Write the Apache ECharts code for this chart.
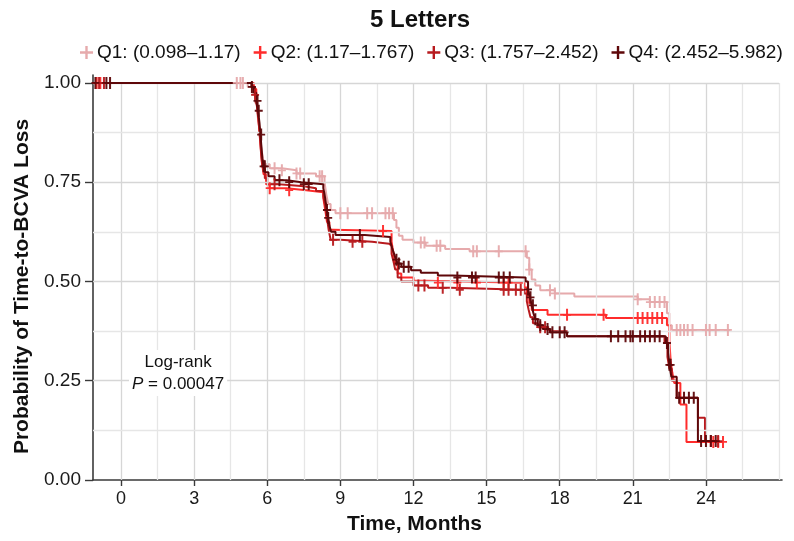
<!DOCTYPE html>
<html>
<head>
<meta charset="utf-8">
<script src="https://cdn.jsdelivr.net/npm/echarts@6/dist/echarts.min.js"></script>
<style>
  html, body { margin: 0; padding: 0; background: #ffffff; }
  #chart { width: 794px; height: 541px; }
</style>
</head>
<body>
<div id="chart"></div>
<script>
// Kaplan-Meier estimates by quartile: change times (months) and survival after each change
const groupNames = ['Q1: (0.098\u20131.17)', 'Q2: (1.17\u20131.767)', 'Q3: (1.757\u20132.452)', 'Q4: (2.452\u20135.982)'];
const groupColors = ['#e6aaac', '#ff2b2b', '#b81a1e', '#5e0709'];

const q1Times = [-1.15, 5.2, 5.4, 5.5, 5.6, 5.68, 5.75, 5.82, 5.9, 6.1, 6.6, 7.2, 8.0, 8.35, 8.42, 8.5, 8.6, 8.8, 11.2, 11.3, 11.4, 11.55, 12.0, 12.5, 13.3, 14.3, 16.65, 16.75, 16.85, 17.0, 17.2, 17.8, 18.6, 21.2, 21.7, 22.4, 22.5, 22.6];
const q1Surv  = [1.0, 0.99, 0.97, 0.95, 0.92, 0.88, 0.84, 0.81, 0.795, 0.785, 0.78, 0.772, 0.765, 0.75, 0.72, 0.695, 0.68, 0.672, 0.655, 0.635, 0.615, 0.605, 0.598, 0.59, 0.582, 0.576, 0.56, 0.53, 0.505, 0.49, 0.478, 0.47, 0.462, 0.455, 0.448, 0.42, 0.39, 0.378];
const q1End = 25.0;
const q1Censor = [4.75, 4.9, 5.0, 6.3, 6.6, 7.2, 7.35, 8.15, 8.25, 9.0, 9.3, 10.1, 10.3, 10.85, 11.0, 11.15, 12.3, 12.45, 12.95, 13.1, 14.45, 14.6, 15.5, 16.6, 16.75, 17.6, 17.8, 21.2, 21.7, 21.9, 22.1, 22.3, 22.8, 22.95, 23.1, 23.25, 23.45, 24.0, 24.15, 24.4, 24.9];

const q2Times = [-1.15, 5.45, 5.55, 5.62, 5.68, 5.73, 5.78, 5.85, 5.95, 6.1, 6.8, 7.6, 8.3, 8.38, 8.45, 8.55, 8.7, 11.1, 11.18, 11.25, 11.35, 11.5, 12.0, 12.5, 16.55, 16.65, 16.75, 16.85, 17.5, 19.9, 22.4, 22.5, 22.55, 22.62, 22.7, 22.95, 23.2];
const q2Surv  = [1.0, 0.985, 0.96, 0.92, 0.88, 0.84, 0.80, 0.77, 0.745, 0.735, 0.73, 0.725, 0.71, 0.68, 0.65, 0.63, 0.627, 0.60, 0.57, 0.545, 0.52, 0.51, 0.502, 0.497, 0.485, 0.465, 0.445, 0.428, 0.416, 0.408, 0.39, 0.35, 0.30, 0.27, 0.244, 0.19, 0.096];
const q2End = 24.7;
const q2Censor = [-1.0, -0.85, 6.1, 6.9, 10.75, 13.0, 13.8, 14.6, 15.7, 15.9, 18.3, 19.8, 21.2, 21.4, 21.6, 21.8, 22.0, 22.2, 24.3, 24.5, 24.7];

const q3Times = [-1.15, 5.4, 5.5, 5.58, 5.65, 5.7, 5.75, 5.8, 5.9, 6.0, 6.5, 7.5, 8.0, 8.3, 8.38, 8.45, 8.52, 8.6, 9.0, 10.3, 11.0, 11.1, 11.18, 11.25, 11.35, 11.5, 12.0, 12.6, 13.5, 16.55, 16.65, 16.72, 16.8, 16.9, 17.1, 17.5, 18.3, 22.3, 22.42, 22.5, 22.6, 22.8, 23.67, 23.96];
const q3Surv  = [1.0, 0.99, 0.97, 0.94, 0.90, 0.86, 0.82, 0.79, 0.76, 0.745, 0.74, 0.735, 0.728, 0.715, 0.69, 0.66, 0.63, 0.605, 0.60, 0.595, 0.59, 0.57, 0.55, 0.53, 0.51, 0.50, 0.49, 0.484, 0.479, 0.47, 0.45, 0.43, 0.41, 0.395, 0.385, 0.375, 0.362, 0.345, 0.31, 0.28, 0.25, 0.207, 0.157, 0.098];
const q3End = 24.5;
const q3Censor = [-0.9, -0.7, 5.5, 6.3, 8.7, 9.5, 9.9, 12.2, 12.45, 13.2, 13.9, 15.7, 15.9, 16.2, 16.4, 17.2, 17.4, 24.2, 24.5];

const q4Times = [-1.15, 5.35, 5.45, 5.55, 5.62, 5.68, 5.72, 5.76, 5.8, 5.85, 5.92, 6.05, 6.3, 6.8, 7.4, 8.3, 8.35, 8.4, 8.45, 8.5, 8.55, 8.62, 8.8, 10.0, 11.05, 11.12, 11.2, 11.28, 11.36, 11.5, 11.9, 12.3, 13.0, 13.6, 16.6, 16.7, 16.78, 16.85, 16.92, 17.0, 17.1, 17.3, 17.6, 18.3, 22.35, 22.45, 22.5, 22.58, 22.8, 23.67];
const q4Surv  = [1.0, 0.99, 0.975, 0.955, 0.93, 0.90, 0.87, 0.84, 0.81, 0.79, 0.775, 0.765, 0.755, 0.75, 0.745, 0.735, 0.72, 0.70, 0.68, 0.66, 0.64, 0.625, 0.617, 0.612, 0.60, 0.585, 0.57, 0.555, 0.545, 0.537, 0.528, 0.522, 0.515, 0.51, 0.50, 0.48, 0.46, 0.44, 0.42, 0.405, 0.39, 0.38, 0.372, 0.362, 0.345, 0.32, 0.29, 0.26, 0.207, 0.098];
const q4End = 24.4;
const q4Censor = [-1.05, -0.6, -0.45, 5.37, 5.6, 5.65, 5.75, 5.85, 5.9, 6.5, 6.9, 7.5, 7.7, 8.45, 8.5, 9.8, 11.3, 11.4, 11.6, 11.8, 13.8, 14.4, 14.55, 15.5, 15.7, 15.95, 16.7, 16.8, 16.9, 17.0, 17.2, 17.5, 17.7, 18.0, 18.2, 20.1, 20.4, 20.7, 20.9, 21.0, 21.3, 21.5, 21.7, 21.9, 22.1, 22.4, 22.5, 22.55, 22.9, 23.1, 23.3, 23.5, 23.8, 24.0, 24.2, 24.4];

// Axis ranges and tick labels
const xMin = -1.15, xMax = 27.12, yMin = 0, yMax = 1.02;
const xTickValues = [0, 3, 6, 9, 12, 15, 18, 21, 24];
const yTickValues = [0, 0.25, 0.5, 0.75, 1.0];
const xGridValues = [0, 1.5, 3, 4.5, 6, 7.5, 9, 10.5, 12, 13.5, 15, 16.5, 18, 19.5, 21, 22.5, 24, 25.5, 27];
const yGridValues = [0.125, 0.25, 0.375, 0.5, 0.625, 0.75, 0.875, 1.0];
const logRankP = '0.00047';

const groups = [
  { times: q1Times, surv: q1Surv, end: q1End, censor: q1Censor },
  { times: q2Times, surv: q2Surv, end: q2End, censor: q2Censor },
  { times: q3Times, surv: q3Surv, end: q3End, censor: q3Censor },
  { times: q4Times, surv: q4Surv, end: q4End, censor: q4Censor }
];

function stepPoints(g) {
  const pts = g.times.map((t, i) => [t, g.surv[i]]);
  pts.push([g.end, g.surv[g.surv.length - 1]]);
  return pts;
}
function survivalAt(g, t) {
  let s = g.surv[0];
  for (let i = 0; i < g.times.length; i++) {
    if (g.times[i] <= t) s = g.surv[i];
  }
  return s;
}

const plusPath = 'path://M3,0H5V12H3Z M0,5.1H8V6.9H0Z';
const legendPlus = 'path://M4.9,0H7.1V12H4.9Z M0,4.9H12V7.1H0Z';

const series = [];

// Background grid lines, placed through the axes
const gridLines = [];
xGridValues.forEach(v => {
  const major = xTickValues.indexOf(v) >= 0;
  gridLines.push([
    { coord: [v, 0], lineStyle: { color: major ? '#d6d6d6' : '#e6e6e6', width: 1.3, type: 'solid' } },
    { coord: [v, 1.0] }
  ]);
});
yGridValues.forEach(v => {
  const major = yTickValues.indexOf(v) >= 0;
  gridLines.push([
    { coord: [xMin, v], lineStyle: { color: major ? '#d6d6d6' : '#e6e6e6', width: 1.3, type: 'solid' } },
    { coord: [27, v] }
  ]);
});
series.push({
  type: 'line',
  name: '__grid',
  data: [[xMin, 0]],
  showSymbol: false,
  lineStyle: { opacity: 0 },
  silent: true,
  z: 0,
  markLine: {
    silent: true,
    symbol: 'none',
    label: { show: false },
    data: gridLines,
    animation: false
  }
});

groups.forEach((g, i) => {
  series.push({
    type: 'line',
    name: groupNames[i],
    step: 'end',
    data: stepPoints(g),
    showSymbol: false,
    lineStyle: { color: groupColors[i], width: 2 },
    itemStyle: { color: groupColors[i] },
    z: 2 + i,
    animation: false
  });
});
groups.forEach((g, i) => {
  series.push({
    type: 'scatter',
    name: groupNames[i],
    data: g.censor.map(t => [t, survivalAt(g, t)]),
    symbol: plusPath,
    symbolSize: [8, 12],
    itemStyle: { color: groupColors[i], opacity: 0.95 },
    z: 6 + i,
    animation: false
  });
});

const chart = echarts.init(document.getElementById('chart'), null, { renderer: 'canvas' });
chart.setOption({
  animation: false,
  backgroundColor: '#ffffff',
  textStyle: { fontFamily: 'Liberation Sans, Arial, sans-serif' },
  title: {
    text: '5 Letters',
    left: 415,
    top: 3,
    textAlign: 'center',
    textStyle: { fontSize: 24, fontWeight: 'bold', color: '#111111', fontFamily: 'Liberation Sans, Arial, sans-serif' }
  },
  legend: {
    top: 43,
    left: 80,
    width: 714,
    padding: 0,
    itemWidth: 13,
    itemHeight: 13,
    itemGap: 13,
    selectedMode: false,
    textStyle: { fontSize: 19, color: '#111111', padding: [0, 0, 0, -1] },
    data: groupNames.map((n, i) => ({ name: n, icon: legendPlus, itemStyle: { color: groupColors[i] } }))
  },
  grid: { left: 93, right: 12, top: 75, bottom: 61 },
  xAxis: {
    type: 'value',
    min: xMin,
    max: xMax,
    name: 'Time, Months',
    nameLocation: 'middle',
    nameGap: 34,
    nameTextStyle: { fontSize: 21, fontWeight: 'bold', color: '#111111', padding: [0, 46, 0, 0] },
    axisLine: { show: true, onZero: false, lineStyle: { color: '#3a3a3a', width: 1.6 } },
    axisTick: { show: true, length: 6, customValues: xTickValues, lineStyle: { color: '#3a3a3a', width: 1.4 } },
    axisLabel: { customValues: xTickValues, fontSize: 18, color: '#1a1a1a', margin: 10 },
    splitLine: { show: false }
  },
  yAxis: {
    type: 'value',
    min: yMin,
    max: yMax,
    name: 'Probability of Time-to-BCVA Loss',
    nameLocation: 'middle',
    nameGap: 60,
    nameTextStyle: { fontSize: 21, fontWeight: 'bold', color: '#111111', padding: [0, 18, 0, 0] },
    axisLine: { show: true, onZero: false, lineStyle: { color: '#3a3a3a', width: 1.6 } },
    axisTick: { show: true, length: 8, customValues: yTickValues, lineStyle: { color: '#3a3a3a', width: 1.4 } },
    axisLabel: { customValues: yTickValues, fontSize: 19, color: '#1a1a1a', margin: 12, formatter: v => v.toFixed(2) },
    splitLine: { show: false }
  },
  graphic: [{
    type: 'text',
    z: 50,
    left: 129,
    top: 350,
    style: {
      text: '{n|Log-rank}\n{i|P}{n| = ' + logRankP + '}',
      textAlign: 'center',
      fill: '#111111',
      backgroundColor: '#ffffff',
      padding: [1, 3, 1, 3],
      rich: {
        n: { fontSize: 17, fontFamily: 'Liberation Sans, Arial, sans-serif', lineHeight: 22, fill: '#111111' },
        i: { fontSize: 17, fontStyle: 'italic', fontFamily: 'Liberation Sans, Arial, sans-serif', lineHeight: 22, fill: '#111111' }
      }
    }
  }],
  series: series
});
</script>
</body>
</html>
